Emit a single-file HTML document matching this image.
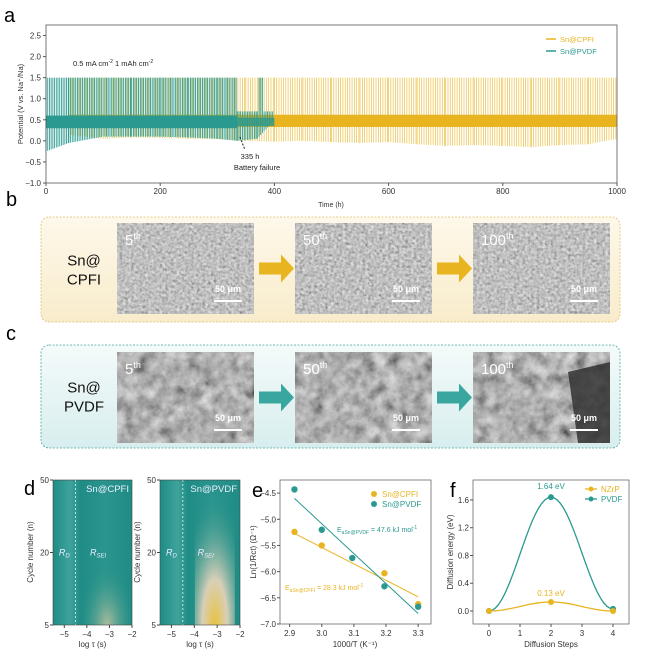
<!DOCTYPE html>
<html><head><meta charset="utf-8"><style>
html,body{margin:0;padding:0;background:#fff;}
body{width:650px;height:655px;position:relative;overflow:hidden;font-family:"Liberation Sans",sans-serif;}
svg{position:absolute;left:0;top:0;}
</style></head><body>
<svg id="fig" width="650" height="655" viewBox="0 0 650 655">
<defs>
<filter id="semA" x="0" y="0" width="100%" height="100%"><feTurbulence type="fractalNoise" baseFrequency="0.35" numOctaves="3" seed="3"/><feColorMatrix type="matrix" values="0.4 0.4 0.4 0 -0.08  0.4 0.4 0.4 0 -0.08  0.4 0.4 0.4 0 -0.08  0 0 0 0 1"/></filter>
<filter id="semB" x="0" y="0" width="100%" height="100%"><feTurbulence type="fractalNoise" baseFrequency="0.08" numOctaves="4" seed="7"/><feColorMatrix type="matrix" values="0.45 0.45 0.45 0 -0.25  0.45 0.45 0.45 0 -0.25  0.45 0.45 0.45 0 -0.25  0 0 0 0 1"/></filter>
<linearGradient id="bgB" x1="0" y1="0" x2="0" y2="1"><stop offset="0" stop-color="#fdf8ea"/><stop offset="1" stop-color="#f8eccb"/></linearGradient>
<linearGradient id="bgC" x1="0" y1="0" x2="0" y2="1"><stop offset="0" stop-color="#f4fafa"/><stop offset="1" stop-color="#d8eeee"/></linearGradient>
<linearGradient id="hm1" x1="0" y1="0" x2="1" y2="0"><stop offset="0" stop-color="#1f8c85"/><stop offset="0.22" stop-color="#3fa39c"/><stop offset="0.35" stop-color="#1f8c85"/><stop offset="0.65" stop-color="#2a958d"/><stop offset="1" stop-color="#1f8c85"/></linearGradient>
<radialGradient id="hot1" cx="0.5" cy="1" r="0.6"><stop offset="0" stop-color="#cfc7a0" stop-opacity="0.8"/><stop offset="1" stop-color="#2a958d" stop-opacity="0"/></radialGradient>
<radialGradient id="hot2" cx="0.5" cy="1" r="0.9"><stop offset="0" stop-color="#e9c240"/><stop offset="0.35" stop-color="#d8cfb8"/><stop offset="1" stop-color="#2a958d" stop-opacity="0"/></radialGradient>
</defs>
<g id="pa"></g>
<g id="pbc"></g>
<g id="pd"></g>
<g id="pe"></g>
<g id="pf"></g>
</svg>
<script>
// ---------- data ----------
const aYTicks=[-1.0,-0.5,0.0,0.5,1.0,1.5,2.0,2.5];
const aXTicks=[0,200,400,600,800,1000];
const cpfiTimes=[40,100,150,200,250,300,350,400,450,500,550,600,650,700,750,800,850,900,950,1000];
const cpfiLow=[0.15,0.05,0.08,0.07,0.05,0.04,0.0,-0.02,0.0,-0.03,-0.05,-0.03,-0.08,-0.12,-0.1,-0.12,-0.15,-0.1,-0.08,0.05];
const pvdfTimes=[0,40,100,150,200,250,300,335,370,400];
const pvdfLow=[-0.25,-0.05,0.1,0.1,0.1,0.08,0.05,0.0,0.05,0.5];
const eX=[2.915,3.0,3.095,3.195,3.3];
const eCPFI=[-5.24,-5.5,null,-6.03,-6.62];
const ePVDF=[-4.43,-5.2,-5.74,-6.28,-6.67];
const eFitCPFI=[-5.27,-6.48];
const eFitPVDF=[-4.6,-6.8];
const eYTicks=[-4.5,-5.0,-5.5,-6.0,-6.5,-7.0];
const eXTicks=[2.9,3.0,3.1,3.2,3.3];
const fSteps=[0,2,4];
const fNZrP=[0,0.13,0];
const fPVDF=[0,1.64,0.03];
const fYTicks=[0.0,0.4,0.8,1.2,1.6];
const fXTicks=[0,1,2,3,4];
const dXTicks=[-5,-4,-3,-2];
const dYTicks=[5,20,50];

const NS="http://www.w3.org/2000/svg";
function mk(p,tag,attrs,txt){const e=document.createElementNS(NS,tag);for(const k in attrs)e.setAttribute(k,attrs[k]);if(txt!==undefined)e.textContent=txt;p.appendChild(e);return e;}
const GOLD="#e8b420",TEAL="#2a9a90";

// ---------- panel a ----------
(function(){
const g=document.getElementById('pa');
const L=46,R=617,T=25,B=183;
const x=v=>L+(v-0)/1000*(R-L);
const y=v=>B-(v+1)/3.75*(B-T);
let t=mk(g,'text',{x:4,y:22,'font-size':20},'a');

let cp=mk(g,'g',{});
for(let i=0;i<cpfiTimes.length-1;i++){
  for(let h=cpfiTimes[i];h<cpfiTimes[i+1];h+=4){
    const lo=cpfiLow[i]+(cpfiLow[i+1]-cpfiLow[i])*(h-cpfiTimes[i])/(cpfiTimes[i+1]-cpfiTimes[i]);
    mk(cp,'line',{x1:x(h),x2:x(h),y1:y(1.5),y2:y(lo),stroke:GOLD,'stroke-width':0.7,opacity:0.85});
  }
}
mk(cp,'rect',{x:x(40),y:y(0.62),width:x(1000)-x(40),height:y(0.33)-y(0.62),fill:GOLD});
let pv=mk(g,'g',{});
for(let i=0;i<pvdfTimes.length-1;i++){
  for(let h=pvdfTimes[i];h<pvdfTimes[i+1];h+=3){
    const lo=pvdfLow[i]+(pvdfLow[i+1]-pvdfLow[i])*(h-pvdfTimes[i])/(pvdfTimes[i+1]-pvdfTimes[i]);
    mk(pv,'line',{x1:x(h),x2:x(h),y1:y(h<335||h>370&&h<380?1.5:0.7),y2:y(lo),stroke:TEAL,'stroke-width':0.9,opacity:0.95});
  }
}
mk(pv,'rect',{x:x(0),y:y(0.6),width:x(335)-x(0),height:y(0.3)-y(0.6),fill:TEAL});
mk(pv,'rect',{x:x(335),y:y(0.55),width:x(400)-x(335),height:y(0.35)-y(0.55),fill:TEAL,opacity:0.8});
mk(g,'rect',{x:L,y:T,width:R-L,height:B-T,fill:'none',stroke:'#555','stroke-width':0.8});
aYTicks.forEach(v=>{mk(g,'line',{x1:L-3,x2:L,y1:y(v),y2:y(v),stroke:'#555'});
 let tt=mk(g,'text',{x:L-5,y:y(v)+3,'font-size':8,'text-anchor':'end',fill:'#333'},v.toFixed(1).replace('-','−'));
 });
aXTicks.forEach(v=>{mk(g,'line',{x1:x(v),x2:x(v),y1:B,y2:B+3,stroke:'#555'});
 let tt=mk(g,'text',{x:x(v),y:B+11,'font-size':8,'text-anchor':'middle',fill:'#333'},v);
 });
t=mk(g,'text',{x:331,y:207,'font-size':7,'text-anchor':'middle',fill:'#333'},'Time (h)');
t=mk(g,'text',{x:23,y:104,'font-size':7.5,'text-anchor':'middle',fill:'#333',transform:'rotate(-90 23 104)'},'Potential (V vs. Na⁺/Na)');
t=mk(g,'text',{x:73,y:66,'font-size':7.5,fill:'#222'});t.innerHTML='0.5 mA cm<tspan dy="-3" font-size="5">-2</tspan><tspan dy="3"> 1 mAh cm</tspan><tspan dy="-3" font-size="5">-2</tspan>';
mk(g,'line',{x1:240,y1:137,x2:245,y2:150,stroke:'#222','stroke-dasharray':'2 1.5'});
t=mk(g,'text',{x:250,y:159,'font-size':7.5,'text-anchor':'middle',fill:'#222'},'335 h');
t=mk(g,'text',{x:257,y:170,'font-size':7.5,'text-anchor':'middle',fill:'#222'},'Battery failure');
let lg=mk(g,'g',{});
mk(lg,'line',{x1:546,x2:556,y1:39,y2:39,stroke:GOLD,'stroke-width':1.5});
mk(lg,'text',{x:560,y:42,'font-size':7.5,fill:GOLD},'Sn@CPFI');
mk(lg,'line',{x1:546,x2:556,y1:51,y2:51,stroke:TEAL,'stroke-width':1.5});
mk(lg,'text',{x:560,y:54,'font-size':7.5,fill:TEAL},'Sn@PVDF');
})();

// ---------- panels b,c ----------
(function(){
const g=document.getElementById('pbc');
const rows=[{lab:'b',ly:206,y0:217,y1:322,img0:223,img1:314,bg:'url(#bgB)',st:'#e2c070',arrow:GOLD,name:'CPFI',filt:'semA'},
            {lab:'c',ly:340,y0:345,y1:448,img0:352,img1:443,bg:'url(#bgC)',st:'#4aa7a0',arrow:'#3aa6a0',name:'PVDF',filt:'semB'}];
const imgX=[117,295,473],imgW=137,cyc=['5','50','100'];
rows.forEach((r,ri)=>{
 let t=mk(g,'text',{x:6,y:r.ly,'font-size':20},r.lab);
 let box=mk(g,'rect',{x:41,y:r.y0,width:579,height:r.y1-r.y0,rx:8,fill:r.bg,stroke:r.st,'stroke-dasharray':'2 1.5','stroke-width':0.8});
 
 t=mk(g,'text',{x:84,y:(r.y0+r.y1)/2-4,'font-size':15,'text-anchor':'middle',fill:'#111'},'Sn@');
 mk(g,'text',{x:84,y:(r.y0+r.y1)/2+15,'font-size':15,'text-anchor':'middle',fill:'#111'},r.name);
 imgX.forEach((ix,i)=>{
  let im=mk(g,'rect',{x:ix,y:r.img0,width:imgW,height:r.img1-r.img0,filter:'url(#'+r.filt+')'});
  
  if(ri==1&&i==2) mk(g,'path',{d:`M${ix+95} ${r.img0+20} L${ix+imgW} ${r.img0+10} L${ix+imgW} ${r.img1} L${ix+105} ${r.img1} Z`,fill:'#2a2a2a',opacity:0.8});
  t=mk(g,'text',{x:ix+8,y:r.img0+22,'font-size':15,fill:'#fff'});t.innerHTML=cyc[i]+'<tspan dy="-6" font-size="9">th</tspan>';
  
  t=mk(g,'text',{x:ix+imgW-26,y:r.img1-22,'font-size':9,'font-weight':'bold','text-anchor':'middle',fill:'#fff'},'50 μm');
  
  mk(g,'rect',{x:ix+imgW-40,y:r.img1-14,width:28,height:2,fill:'#fff'});
  if(i<2){let a=mk(g,'path',{d:`M${ix+imgW+5} ${(r.img0+r.img1)/2-6} h22 v-8 l13 14 l-13 14 v-8 h-22 Z`,fill:r.arrow});
   }
 });
});
})();

// ---------- panel d ----------
(function(){
const g=document.getElementById('pd');
let t=mk(g,'text',{x:24,y:495,'font-size':20},'d');
const maps=[{L:53,R:132,hot:'url(#hot1)',hw:0.3,hh:0.35,name:'Sn@CPFI'},{L:160,R:240,hot:'url(#hot2)',hw:0.25,hh:0.5,name:'Sn@PVDF'}];
const T=480,B=625;
const yPos={5:B,20:T+(B-T)*0.5,50:T};
maps.forEach((m,mi)=>{
 const x=v=>m.L+(v+5.5)/3.5*(m.R-m.L);
 let hm=mk(g,'rect',{x:m.L,y:T,width:m.R-m.L,height:B-T,fill:'url(#hm1)'});
 
 const hx=x(-3.1),w=(m.R-m.L)*m.hw;
 mk(g,'rect',{x:hx-w,y:B-(B-T)*m.hh*2,width:w*2,height:(B-T)*m.hh*2,fill:m.hot});
 mk(g,'line',{x1:x(-4.5),x2:x(-4.5),y1:T,y2:B,stroke:'#e8f5f3','stroke-dasharray':'2 2','stroke-width':0.8});
 t=mk(g,'text',{x:m.R-3,y:T+12,'font-size':9.5,'text-anchor':'end',fill:'#eef'},m.name);
 t=mk(g,'text',{x:x(-5.0),y:yPos[20]+3,'font-size':9,'font-style':'italic','text-anchor':'middle',fill:'#eef'});t.innerHTML='R<tspan dy="2" font-size="6">D</tspan>';
 t=mk(g,'text',{x:x(-3.5),y:yPos[20]+3,'font-size':9,'font-style':'italic','text-anchor':'middle',fill:'#eef'});t.innerHTML='R<tspan dy="2" font-size="6">SEI</tspan>';
 mk(g,'rect',{x:m.L,y:T,width:m.R-m.L,height:B-T,fill:'none',stroke:'#444','stroke-width':0.6});
 dXTicks.forEach(v=>{mk(g,'line',{x1:x(v),x2:x(v),y1:B,y2:B+3,stroke:'#444'});
  let tt=mk(g,'text',{x:x(v),y:B+12,'font-size':8,'text-anchor':'middle',fill:'#333'},String(v).replace('-','−'));});
 dYTicks.forEach(v=>{mk(g,'line',{x1:m.L-3,x2:m.L,y1:yPos[v],y2:yPos[v],stroke:'#444'});
  let tt=mk(g,'text',{x:m.L-4,y:yPos[v]+3,'font-size':8,'text-anchor':'end',fill:'#333'},v);});
 t=mk(g,'text',{x:(m.L+m.R)/2,y:647,'font-size':8,'text-anchor':'middle',fill:'#333'},'log τ (s)');
 const yl=m.L-20;
 t=mk(g,'text',{x:yl,y:552,'font-size':8,'text-anchor':'middle',fill:'#333',transform:`rotate(-90 ${yl} 552)`},'Cycle number (n)');
});
})();

// ---------- panel e ----------
(function(){
const g=document.getElementById('pe');
const L=280,R=431,T=480,B=624;
const x=v=>L+(v-2.87)/0.47*(R-L);
const y=v=>T+(-4.25-v)/2.75*(B-T);
let t=mk(g,'text',{x:252,y:497,'font-size':20},'e');
mk(g,'rect',{x:L,y:T,width:R-L,height:B-T,fill:'none',stroke:'#555','stroke-width':0.7});
eYTicks.forEach(v=>{mk(g,'line',{x1:L-3,x2:L,y1:y(v),y2:y(v),stroke:'#555'});
 let tt=mk(g,'text',{x:L-4,y:y(v)+3,'font-size':8,'text-anchor':'end',fill:'#333'},v.toFixed(1).replace('-','−'));});
eXTicks.forEach(v=>{mk(g,'line',{x1:x(v),x2:x(v),y1:B,y2:B+3,stroke:'#555'});
 let tt=mk(g,'text',{x:x(v),y:B+12,'font-size':8,'text-anchor':'middle',fill:'#333'},v.toFixed(1));});
let l1=mk(g,'line',{x1:x(eX[0]),x2:x(eX[4]),y1:y(eFitCPFI[0]),y2:y(eFitCPFI[1]),stroke:GOLD,'stroke-width':1});
let l2=mk(g,'line',{x1:x(eX[0]),x2:x(eX[4]),y1:y(eFitPVDF[0]),y2:y(eFitPVDF[1]),stroke:TEAL,'stroke-width':1});
eX.forEach((v,i)=>{
 if(eCPFI[i]!==null){let c=mk(g,'circle',{cx:x(v),cy:y(eCPFI[i]),r:3.2,fill:GOLD});}
 let c=mk(g,'circle',{cx:x(v),cy:y(ePVDF[i]),r:3.2,fill:TEAL});
});
let lg=mk(g,'g',{});
mk(lg,'circle',{cx:374,cy:494,r:3,fill:GOLD});mk(lg,'text',{x:382,y:497,'font-size':8,fill:GOLD},'Sn@CPFI');
mk(lg,'circle',{cx:374,cy:504,r:3,fill:TEAL});mk(lg,'text',{x:382,y:507,'font-size':8,fill:TEAL},'Sn@PVDF');
t=mk(g,'text',{x:337,y:532,'font-size':7,fill:TEAL});t.innerHTML='E<tspan dy="2" font-size="5">aSn@PVDF</tspan><tspan dy="-2"> = 47.6 kJ mol</tspan><tspan dy="-3" font-size="5">-1</tspan>';
t=mk(g,'text',{x:285,y:590,'font-size':7,fill:GOLD});t.innerHTML='E<tspan dy="2" font-size="5">aSn@CPFI</tspan><tspan dy="-2"> = 28.3 kJ mol</tspan><tspan dy="-3" font-size="5">-1</tspan>';
t=mk(g,'text',{x:355,y:647,'font-size':8,'text-anchor':'middle',fill:'#333'},'1000/T (K⁻¹)');
t=mk(g,'text',{x:256,y:552,'font-size':8,'text-anchor':'middle',fill:'#333',transform:'rotate(-90 256 552)'},'Ln(1/Rct) (Ω⁻¹)');
})();

// ---------- panel f ----------
(function(){
const g=document.getElementById('pf');
const L=473,R=629,T=480,B=624;
const x=v=>489+v/4*(613-489);
const y=v=>611-v*69.4;
let t=mk(g,'text',{x:450,y:497,'font-size':20},'f');
mk(g,'rect',{x:L,y:T,width:R-L,height:B-T,fill:'none',stroke:'#555','stroke-width':0.7});
fYTicks.forEach(v=>{mk(g,'line',{x1:L-3,x2:L,y1:y(v),y2:y(v),stroke:'#555'});
 let tt=mk(g,'text',{x:L-4,y:y(v)+3,'font-size':8,'text-anchor':'end',fill:'#333'},v.toFixed(1));});
fXTicks.forEach(v=>{mk(g,'line',{x1:x(v),x2:x(v),y1:B,y2:B+3,stroke:'#555'});
 let tt=mk(g,'text',{x:x(v),y:B+12,'font-size':8,'text-anchor':'middle',fill:'#333'},v);});
function curve(vals,col,name){
 let d='';
 for(let i=0;i<fSteps.length-1;i++){
  for(let k=0;k<=20;k++){const f=k/20;const s=(1-Math.cos(Math.PI*f))/2;
   const xv=fSteps[i]+(fSteps[i+1]-fSteps[i])*f,yv=vals[i]+(vals[i+1]-vals[i])*s;
   d+=(d?'L':'M')+x(xv).toFixed(1)+' '+y(yv).toFixed(1);}
 }
 let p=mk(g,'path',{d:d,fill:'none',stroke:col,'stroke-width':1.3});
 fSteps.forEach((s,i)=>{let c=mk(g,'circle',{cx:x(s),cy:y(vals[i]),r:3,fill:col});});
}
curve(fPVDF,TEAL,'pvdf');
curve(fNZrP,GOLD,'nzrp');
t=mk(g,'text',{x:x(2),y:y(fPVDF[1])-8,'font-size':8,'text-anchor':'middle',fill:TEAL},fPVDF[1].toFixed(2)+' eV');
t=mk(g,'text',{x:x(2),y:y(fNZrP[1])-6,'font-size':8,'text-anchor':'middle',fill:GOLD},fNZrP[1].toFixed(2)+' eV');
let lg=mk(g,'g',{});
mk(lg,'line',{x1:585,x2:597,y1:489,y2:489,stroke:GOLD,'stroke-width':1.3});mk(lg,'circle',{cx:591,cy:489,r:2.5,fill:GOLD});mk(lg,'text',{x:601,y:492,'font-size':8,fill:GOLD},'NZrP');
mk(lg,'line',{x1:585,x2:597,y1:499,y2:499,stroke:TEAL,'stroke-width':1.3});mk(lg,'circle',{cx:591,cy:499,r:2.5,fill:TEAL});mk(lg,'text',{x:601,y:502,'font-size':8,fill:TEAL},'PVDF');
t=mk(g,'text',{x:551,y:647,'font-size':8,'text-anchor':'middle',fill:'#333'},'Diffusion Steps');
t=mk(g,'text',{x:453,y:552,'font-size':8,'text-anchor':'middle',fill:'#333',transform:'rotate(-90 453 552)'},'Diffusion energy (eV)');
})();
</script>
</body></html>
